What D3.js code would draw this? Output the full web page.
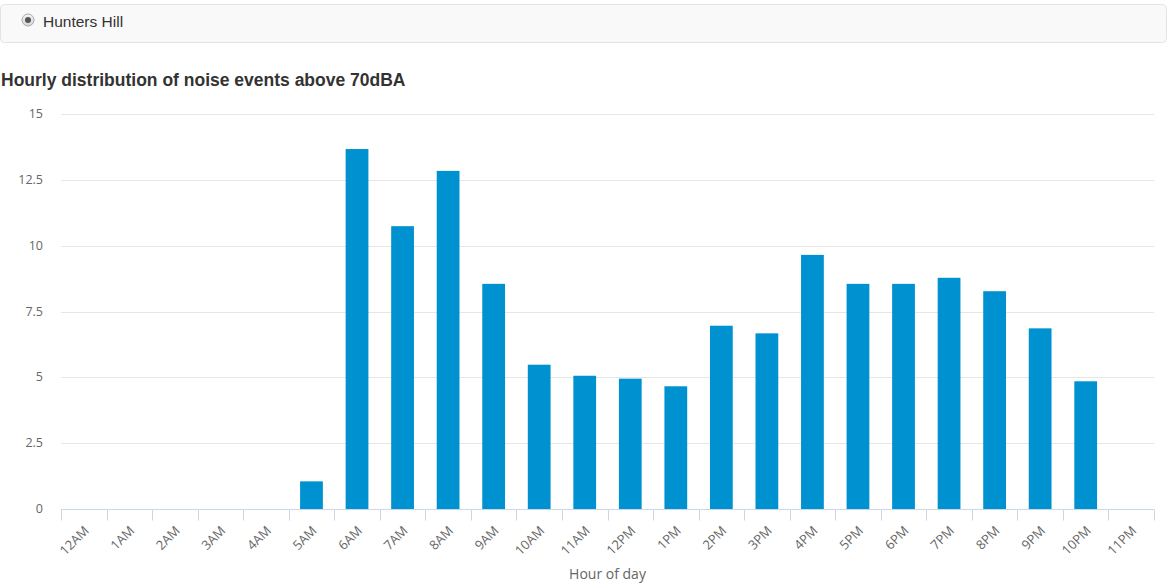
<!DOCTYPE html>
<html><head><meta charset="utf-8">
<script src="https://cdn.jsdelivr.net/npm/d3@7"></script>
<style>
html,body{margin:0;padding:0;background:#fff;}
svg{display:block;}
</style></head>
<body>
<svg id="chart" width="1168" height="587"></svg>
<script>
const hours = ["12AM","1AM","2AM","3AM","4AM","5AM","6AM","7AM","8AM","9AM","10AM","11AM","12PM","1PM","2PM","3PM","4PM","5PM","6PM","7PM","8PM","9PM","10PM","11PM"];
const events = [0,0,0,0,0,1.05,13.67,10.74,12.84,8.55,5.48,5.06,4.95,4.66,6.96,6.67,9.65,8.55,8.55,8.78,8.27,6.86,4.85,0];
const yTicks = [0,2.5,5,7.5,10,12.5,15];
const title = "Hourly distribution of noise events above 70dBA";
const xTitle = "Hour of day";
const siteName = "Hunters Hill";

const svg = d3.select("#chart");
const W = 1168, H = 587;
const m = {left:61, right:14, top:114, bottom:78};
const x = d3.scaleBand().domain(hours).range([m.left, W - m.right]).paddingInner(0.5).paddingOuter(0.25);
const y = d3.scaleLinear().domain([0,15]).range([H - m.bottom, m.top]);

// top panel
svg.append("rect").attr("x",0.5).attr("y",4.5).attr("width",1166).attr("height",38).attr("rx",4)
  .attr("fill","#f9f9f9").attr("stroke","#e3e3e3");
const defs = svg.append("defs");
const rg = defs.append("linearGradient").attr("id","rg").attr("x1",0).attr("y1",0).attr("x2",0).attr("y2",1);
rg.append("stop").attr("offset","0%").attr("stop-color","#f4f4f4");
rg.append("stop").attr("offset","100%").attr("stop-color","#d6d6d6");
svg.append("circle").attr("cx",28).attr("cy",20).attr("r",6).attr("fill","url(#rg)").attr("stroke","#a9a9a9");
svg.append("circle").attr("cx",28).attr("cy",20).attr("r",3).attr("fill","#555");
svg.append("text").attr("x",43).attr("y",27).text(siteName)
  .style("font-family","Liberation Sans, Arial, sans-serif").style("font-size","15.5px").attr("fill","#333");

// title
svg.append("text").attr("x",1).attr("y",86).text(title)
  .style("font-family","Liberation Sans, Arial, sans-serif").style("font-size","17.5px").style("font-weight","bold").attr("fill","#333");

// gridlines
svg.append("g").selectAll("line").data(yTicks.filter(d=>d>0)).join("line")
  .attr("x1",m.left).attr("x2",W-m.right).attr("y1",d=>Math.round(y(d))+0.5).attr("y2",d=>Math.round(y(d))+0.5)
  .attr("stroke","#e6e6e6");

// y labels
svg.append("g").selectAll("text").data(yTicks).join("text")
  .attr("x",43).attr("y",d=>y(d)+4).attr("text-anchor","end").text(d=>d)
  .style("font-family","Open Sans, sans-serif").style("font-size","12.5px").attr("fill","#666");

// bars
svg.append("g").selectAll("rect").data(events).join("rect")
  .attr("x",(d,i)=>x(hours[i])).attr("width",x.bandwidth())
  .attr("y",d=>y(d)).attr("height",d=>y(0)-y(d)).attr("fill","#0092d0");

// x axis
const xa = svg.append("g").attr("transform",`translate(0,${Math.round(y(0))+0.5})`);
xa.append("line").attr("x1",m.left).attr("x2",W-m.right).attr("stroke","#ccd6eb");
const tickXs = d3.range(hours.length+1).map(i=>m.left + i*((W-m.right-m.left)/hours.length));
xa.selectAll("line.tk").data(tickXs).join("line").attr("class","tk")
  .attr("x1",d=>Math.round(d)+0.5).attr("x2",d=>Math.round(d)+0.5).attr("y1",0).attr("y2",11).attr("stroke","#ccd6eb");
xa.selectAll("text").data(hours).join("text")
  .attr("transform",d=>`translate(${x(d)+x.bandwidth()/2+6},${22}) rotate(-45)`)
  .attr("text-anchor","end").text(d=>d)
  .style("font-family","Open Sans, sans-serif").style("font-size","13px").attr("fill","#666");

svg.append("text").attr("x",(m.left+W-m.right)/2).attr("y",579).attr("text-anchor","middle").text(xTitle)
  .style("font-family","Open Sans, sans-serif").style("font-size","14px").attr("fill","#666");
</script>
</body></html>
